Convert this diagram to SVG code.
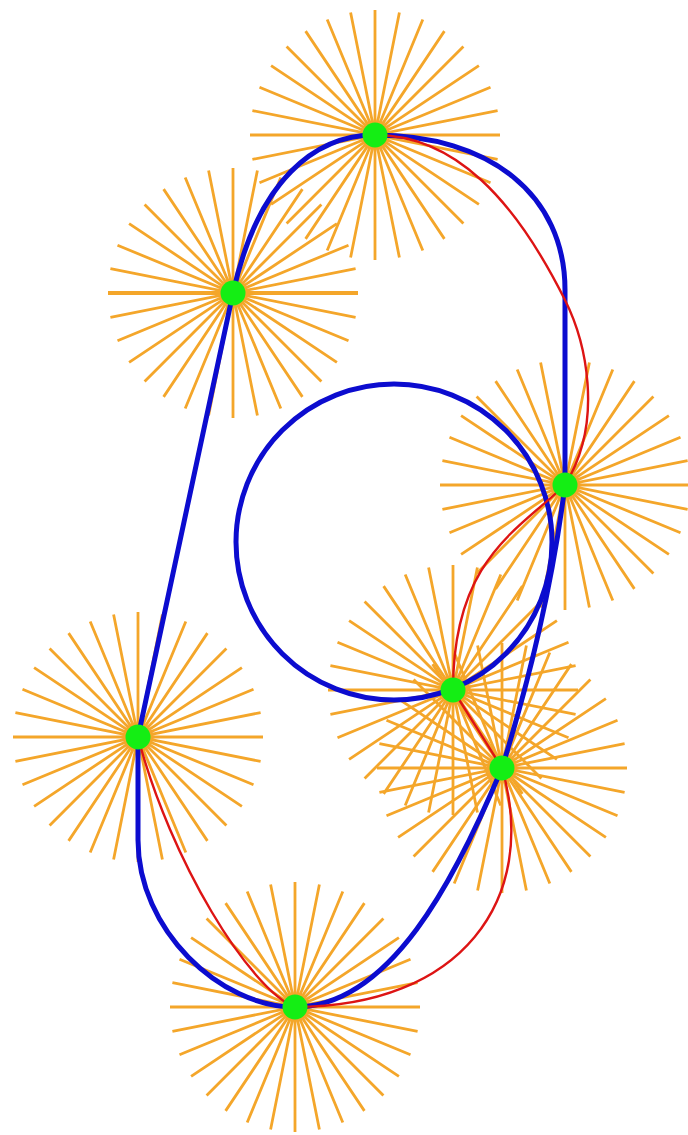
<svg xmlns="http://www.w3.org/2000/svg" xmlns:xlink="http://www.w3.org/1999/xlink" width="688" height="1135" viewBox="0 0 688 1135">
  <style>
    .rays { fill: none; stroke: #f4a62a; stroke-width: 2.8; stroke-linecap: butt; }
    .blue { fill: none; stroke: #0c0ccf; stroke-width: 5; stroke-linejoin: round; }
    .red { fill: none; stroke: #dd1414; stroke-width: 2.4; stroke-linejoin: round; }
    .dot { fill: #14ee14; }
  </style>
  <defs>
    <path id="burst" d="M-125 0H125 M-122.6 -24.4L122.6 24.4 M-115.5 -47.8L115.5 47.8 M-103.9 -69.4L103.9 69.4 M-88.4 -88.4L88.4 88.4 M-69.4 -103.9L69.4 103.9 M-47.8 -115.5L47.8 115.5 M-24.4 -122.6L24.4 122.6 M0 -125V125 M24.4 -122.6L-24.4 122.6 M47.8 -115.5L-47.8 115.5 M69.4 -103.9L-69.4 103.9 M88.4 -88.4L-88.4 88.4 M103.9 -69.4L-103.9 69.4 M115.5 -47.8L-115.5 47.8 M122.6 -24.4L-122.6 24.4"/>
  </defs>
  <rect width="688" height="1135" fill="#ffffff"/>
  <g id="bursts" class="rays">
    <use id="node1-rays" xlink:href="#burst" href="#burst" x="375" y="135"/>
    <use id="node2-rays" xlink:href="#burst" href="#burst" x="233" y="293"/>
    <line x1="108" y1="293" x2="358" y2="293" stroke-width="4"/>
    <use id="node3-rays" xlink:href="#burst" href="#burst" x="565" y="485"/>
    <use id="node4-rays" xlink:href="#burst" href="#burst" x="453" y="690"/>
    <use id="node5-rays" xlink:href="#burst" href="#burst" x="502" y="768"/>
    <use id="node6-rays" xlink:href="#burst" href="#burst" x="138" y="737"/>
    <use id="node7-rays" xlink:href="#burst" href="#burst" x="295" y="1007"/>
  </g>
  <g id="connectors">
    <circle class="blue" cx="394" cy="542" r="158"/>
    <path class="blue" d="M138,737 L233,293 C258,180 315,135 375,135 C490,135 565,195 565,290 L565,485 Q548,620 502,768 C455,880 390,1007 295,1007 C220,1007 138,930 138,840 Z"/>
    <path class="red" d="M375,135 C455,135 515,200 565,300 C585,340 605,420 565,485 C518,530 453,560 453,690 L502,768 C540,900 460,1007 295,1007 C250,990 170,860 138,737"/>
  </g>
  <g id="node1"><circle class="dot" cx="375" cy="135" r="12.5"/></g>
  <g id="node2"><circle class="dot" cx="233" cy="293" r="12.5"/></g>
  <g id="node3"><circle class="dot" cx="565" cy="485" r="12.5"/></g>
  <g id="node4"><circle class="dot" cx="453" cy="690" r="12.5"/></g>
  <g id="node5"><circle class="dot" cx="502" cy="768" r="12.5"/></g>
  <g id="node6"><circle class="dot" cx="138" cy="737" r="12.5"/></g>
  <g id="node7"><circle class="dot" cx="295" cy="1007" r="12.5"/></g>
</svg>
